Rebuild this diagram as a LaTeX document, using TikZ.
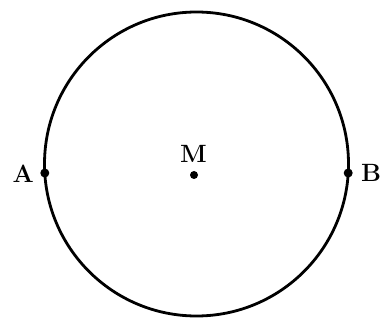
\documentclass[tikz,border=0pt]{standalone}
\usepackage{fontspec}
\usepackage{tikz}
\tikzstyle{dot} = [circle, fill=black, inner sep=0pt, minimum size=9pt]
\tikzstyle{lbl} = [font=\fontsize{25}{29}\selectfont\bfseries, inner sep=0pt]

\begin{document}
\begin{tikzpicture}[x=1pt, y=-1pt]
\useasboundingbox (0,0) rectangle (382,320);

\node (circ) [circle, draw, line width=2.8pt, minimum size=304pt, inner sep=0pt] at (196.5,164) {};
\node (a) [dot] at (44.8,173) {};
\node (b) [dot] at (348.2,173) {};
\node (m) [dot, minimum size=8pt] at (194,175) {};

\node (alabel) [lbl, anchor=east] at (34,174) {A};
\node (blabel) [lbl, anchor=west] at (361,173) {B};
\node (mlabel) [lbl] at (193.5,154) {M};

\end{tikzpicture}
\end{document}
